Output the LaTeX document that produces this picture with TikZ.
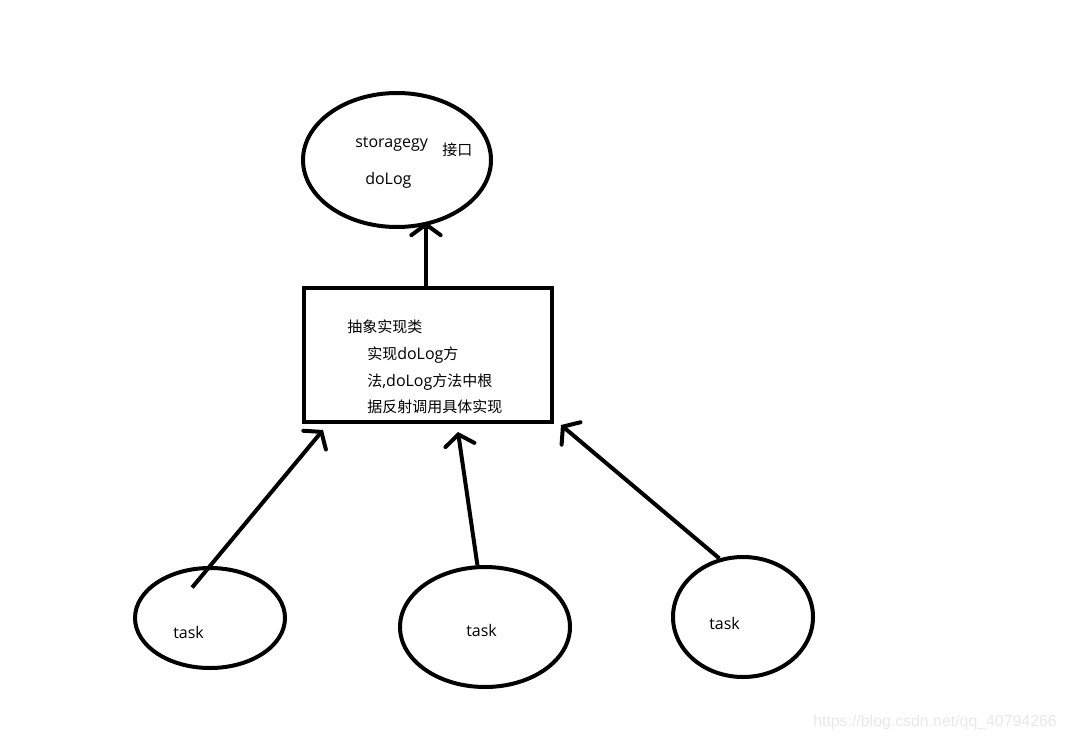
\documentclass[tikz,border=0pt]{standalone}
\usepackage{fontspec}
\setmainfont{Open Sans}
\newfontfamily\cjk{Noto Sans CJK SC}
\newfontfamily\markfont{Liberation Sans}
\usetikzlibrary{arrows.meta,shapes.geometric}

\tikzset{
    oval/.style={draw, ellipse, line width=3pt, inner sep=0pt},
    implbox/.style={draw, rectangle, line width=3pt, inner sep=0pt,
        minimum width=186pt, minimum height=100.5pt},
    txt/.style={anchor=west, inner sep=0pt, font=\fontsize{12}{13}\selectfont},
    arr/.style={line width=3pt, -{Straight Barb[length=8pt,width=22pt,line cap=round]}},
}
\newcommand{\zh}[1]{{\cjk\fontsize{11.25}{12}\selectfont #1}}

\begin{document}
\begin{tikzpicture}[x=0.75pt, y=-0.75pt]
    \useasboundingbox (0,0) rectangle (1066,741);

    % interface
    \node [oval, minimum width=141pt, minimum height=100.5pt]
        (store) at (397,160) {}
        ;
    \node [txt] (storename) at (355,144) {storagegy};
    \node [txt] (storetag) at (442,150) {\zh{接口}};
    \node [txt] (storelog) at (365,180) {doLog};

    % abstract class
    \node [implbox]
        (impl) at (428,355) {}
        ;
    \node [txt] (impltitle) at (347,327) {\zh{抽象实现类}};
    \node [txt] (impla) at (367,355) {\zh{实现}doLog\zh{方}};
    \node [txt] (implb) at (367,382) {\zh{法},doLog\zh{方法中根}};
    \node [txt] (implc) at (367,407) {\zh{据反射调用具体实现}};

    % tasks
    \node [oval, minimum width=112.5pt, minimum height=75pt]
        (taska) at (210,618) {};
    \node [oval, minimum width=127.5pt, minimum height=90pt]
        (taskb) at (485,627) {};
    \node [oval, minimum width=105pt, minimum height=90pt]
        (taskc) at (743,617) {};
    \node [txt] (taskatext) at (173,632) {task};
    \node [txt] (taskbtext) at (466,630) {task};
    \node [txt] (taskctext) at (709,623) {task};

    % arrow tips
    \coordinate (tipa) at (323,430);
    \coordinate (tipb) at (458,432);
    \coordinate (tipc) at (561,425);
    \coordinate (tiptop) at (426,222);

    \draw [arr] (impl.north -| tiptop) -- (tiptop);
    \draw [arr, shorten <=-21pt] (taska.north) -- (tipa);
    \draw [arr] (taskb.97) -- (tipb);
    \draw [arr] (taskc.112) -- (tipc);

    \node [anchor=west, inner sep=0pt, text=black!9,
        font=\markfont\fontsize{11.9}{13}\selectfont]
        (mark) at (813,722) {https://blog.csdn.net/qq\_40794266}
        ;
\end{tikzpicture}
\end{document}
